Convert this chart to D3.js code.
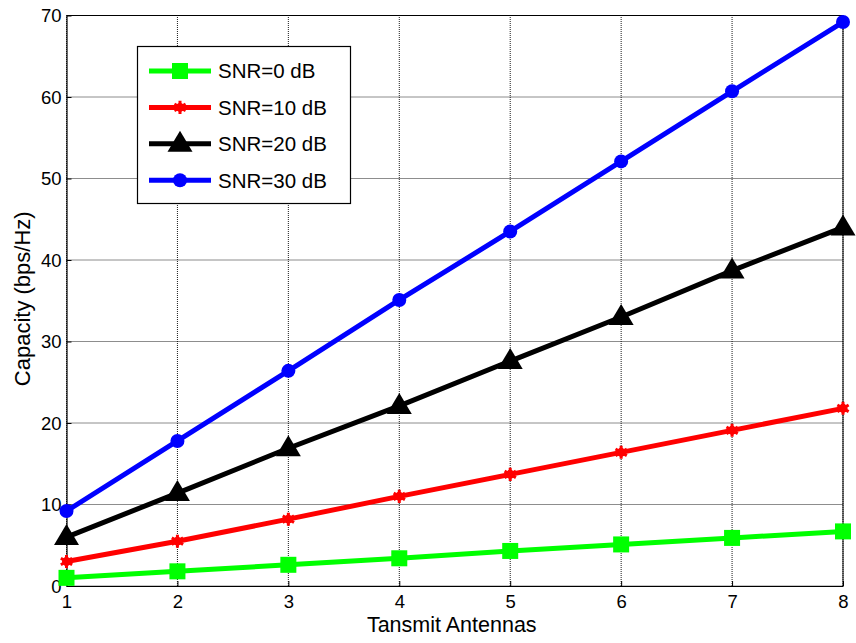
<!DOCTYPE html>
<html>
<head>
<meta charset="utf-8">
<script src="https://cdn.jsdelivr.net/npm/d3@7"></script>
<style>
  body { margin: 0; background: #fff; }
  text { font-family: "Liberation Sans", Arial, sans-serif; }
</style>
</head>
<body>
<svg id="chart" width="856" height="643"></svg>
<script>
"use strict"

// data
const antennas = [1, 2, 3, 4, 5, 6, 7, 8];
const snr0 = [1.0, 1.8, 2.6, 3.4, 4.3, 5.1, 5.9, 6.7];
const snr10 = [3.0, 5.5, 8.2, 11.0, 13.7, 16.4, 19.1, 21.8];
const snr20 = [6.0, 11.4, 16.9, 22.1, 27.6, 33.0, 38.7, 44.0];
const snr30 = [9.2, 17.8, 26.4, 35.1, 43.5, 52.1, 60.7, 69.2];
const xTicks = [1, 2, 3, 4, 5, 6, 7, 8];
const yTicks = [0, 10, 20, 30, 40, 50, 60, 70];
const seriesNames = ["SNR=0 dB", "SNR=10 dB", "SNR=20 dB", "SNR=30 dB"];

const series = [
    {name: seriesNames[0], values: snr0, color: "#00ff00", marker: "square"},
    {name: seriesNames[1], values: snr10, color: "#ff0000", marker: "star"},
    {name: seriesNames[2], values: snr20, color: "#000000", marker: "triangle"},
    {name: seriesNames[3], values: snr30, color: "#0000ff", marker: "circle"}
];

const margin = {left: 66.5, top: 15.5, right: 13, bottom: 57};
const width = 856, height = 643;

const svg = d3.select("#chart");

const x = d3.scaleLinear().domain([1, 8]).range([margin.left, width - margin.right]);
const y = d3.scaleLinear().domain([0, 70]).range([height - margin.bottom, margin.top]);

// grid
const grid = svg.append("g");
grid.selectAll("line.gx")
    .data(xTicks)
    .enter().append("line")
    .attr("x1", d => x(d)).attr("x2", d => x(d))
    .attr("y1", y(0)).attr("y2", y(70))
    .attr("stroke", "#000").attr("stroke-width", 0.9)
    .attr("stroke-dasharray", "1,1");
grid.selectAll("line.gy")
    .data(yTicks)
    .enter().append("line")
    .attr("x1", x(1)).attr("x2", x(8))
    .attr("y1", d => y(d)).attr("y2", d => y(d))
    .attr("stroke", "#000").attr("stroke-width", 0.9)
    .attr("stroke-dasharray", "1,1");

// axes
const xAxis = d3.axisBottom(x).tickValues(xTicks).tickFormat(d3.format("d"))
    .tickSize(-5).tickPadding(9).tickSizeOuter(0);
const yAxis = d3.axisLeft(y).tickValues(yTicks).tickFormat(d3.format("d"))
    .tickSize(-5).tickPadding(5).tickSizeOuter(0);

const gx = svg.append("g").attr("transform", `translate(0,${y(0)})`).call(xAxis);
const gy = svg.append("g").attr("transform", `translate(${x(1)},0)`).call(yAxis);
[gx, gy].forEach(g => {
    g.selectAll("text").attr("font-size", 18.5).attr("fill", "#000");
    g.select(".domain").attr("stroke", "#000").attr("stroke-width", 1.2);
    g.selectAll(".tick line").attr("stroke", "#000");
});
gy.selectAll("text").attr("dy", "0.35em");

// top and right frame
svg.append("line")
    .attr("x1", x(1)).attr("x2", x(8)).attr("y1", y(70)).attr("y2", y(70))
    .attr("stroke", "#000").attr("stroke-width", 1);
svg.append("line")
    .attr("x1", x(8)).attr("x2", x(8)).attr("y1", y(70)).attr("y2", y(0))
    .attr("stroke", "#000").attr("stroke-width", 1);

// axis labels
svg.append("text")
    .attr("x", (x(1) + x(8)) / 2 - 3).attr("y", 632)
    .attr("text-anchor", "middle").attr("font-size", 21.5)
    .text("Tansmit Antennas");
svg.append("text")
    .attr("transform", `translate(30,${(y(0) + y(70)) / 2 - 2}) rotate(-90)`)
    .attr("text-anchor", "middle").attr("font-size", 22)
    .text("Capacity (bps/Hz)");

function drawMarker(g, type, color, cx, cy) {
    if (type == "square") {
        g.append("rect")
            .attr("x", cx - 8).attr("y", cy - 8).attr("width", 16).attr("height", 16)
            .attr("fill", color);
    } else if (type == "star") {
        g.append("path")
            .attr("d", d3.symbol().type(d3.symbolAsterisk).size(120)())
            .attr("transform", `translate(${cx},${cy})`)
            .attr("stroke", color).attr("stroke-width", 3).attr("fill", "none");
        g.append("circle").attr("cx", cx).attr("cy", cy).attr("r", 4.5).attr("fill", color);
    } else if (type == "triangle") {
        g.append("path")
            .attr("d", `M${cx},${cy - 13}L${cx + 12.5},${cy + 8}L${cx - 12.5},${cy + 8}Z`)
            .attr("fill", color);
    } else {
        g.append("circle").attr("cx", cx).attr("cy", cy).attr("r", 7).attr("fill", color);
    }
}

const line = d3.line().x((d, i) => x(antennas[i])).y(d => y(d));

const plot = svg.append("g");
series.forEach(s => {
    plot.append("path")
        .attr("d", line(s.values))
        .attr("fill", "none").attr("stroke", s.color).attr("stroke-width", 5);
    s.values.forEach((v, i) => drawMarker(plot, s.marker, s.color, x(antennas[i]), y(v)));
});

// legend
const legend = svg.append("g");
legend.append("rect")
    .attr("x", 137.5).attr("y", 46.5).attr("width", 213).attr("height", 157)
    .attr("fill", "#fff").attr("stroke", "#000").attr("stroke-width", 1.2);
series.forEach((s, i) => {
    const ly = 71 + i * 36.4;
    legend.append("line")
        .attr("x1", 149).attr("x2", 211).attr("y1", ly).attr("y2", ly)
        .attr("stroke", s.color).attr("stroke-width", 5);
    drawMarker(legend, s.marker, s.color, 180, ly);
    legend.append("text")
        .attr("x", 218).attr("y", ly).attr("dy", "0.36em")
        .attr("font-size", 20.5).text(s.name);
});
</script>
</body>
</html>
